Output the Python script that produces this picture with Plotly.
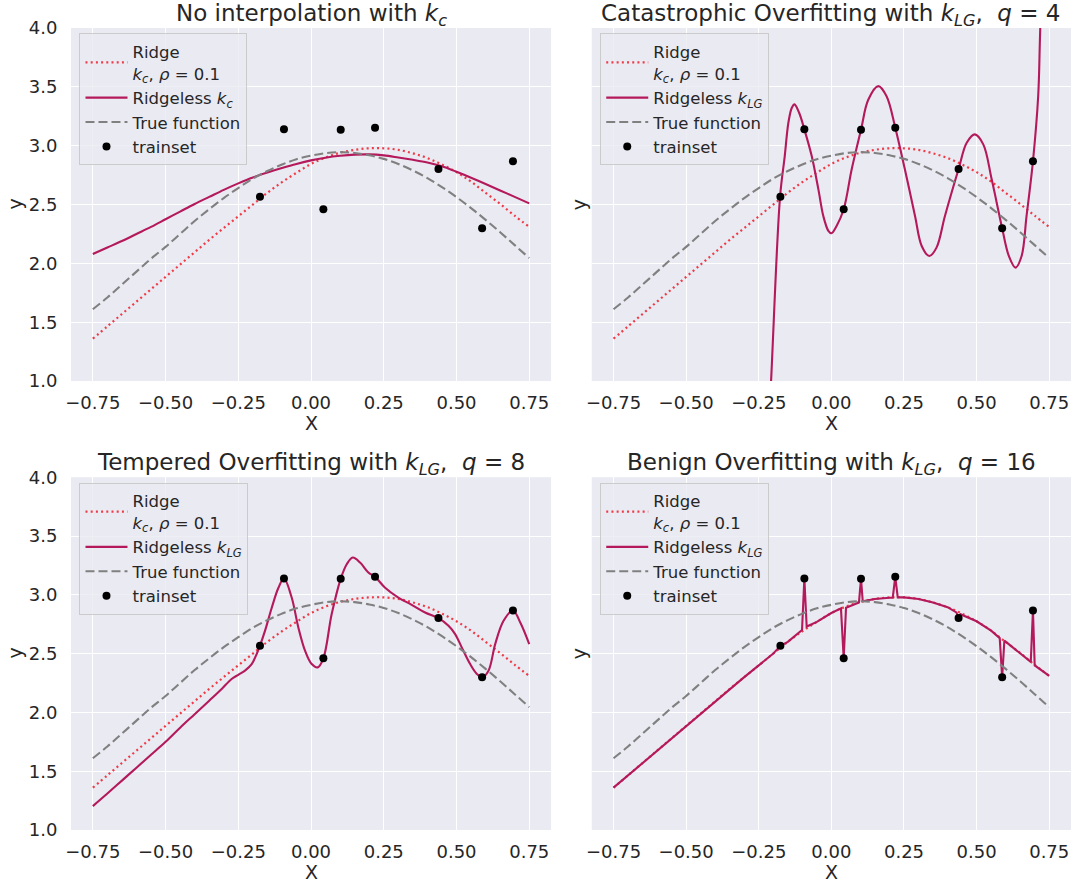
import plotly.graph_objects as go

# ---------------- data ----------------
grid_x = [-0.75, -0.70, -0.65, -0.60, -0.55, -0.50, -0.45, -0.40, -0.35, -0.30,
          -0.25, -0.20, -0.15, -0.10, -0.05, 0.00, 0.05, 0.10, 0.15, 0.20,
          0.25, 0.30, 0.35, 0.40, 0.45, 0.50, 0.55, 0.60, 0.65, 0.70, 0.75]

true_y = [1.61, 1.71, 1.82, 1.93, 2.04, 2.14, 2.25, 2.36, 2.46, 2.555,
          2.64, 2.72, 2.785, 2.84, 2.885, 2.915, 2.937, 2.945, 2.938, 2.918,
          2.888, 2.845, 2.79, 2.725, 2.648, 2.563, 2.47, 2.37, 2.265, 2.155, 2.045]

ridge_y = [1.36, 1.465, 1.57, 1.675, 1.78, 1.885, 1.99, 2.095, 2.20, 2.30,
           2.40, 2.50, 2.60, 2.69, 2.77, 2.845, 2.90, 2.94, 2.965, 2.978,
           2.978, 2.965, 2.935, 2.895, 2.84, 2.775, 2.695, 2.60, 2.505, 2.405, 2.31]

ridgeless_kc_y = [2.08, 2.135, 2.19, 2.25, 2.31, 2.375, 2.44, 2.505, 2.565, 2.625,
                  2.68, 2.73, 2.772, 2.81, 2.845, 2.875, 2.898, 2.914, 2.924, 2.926,
                  2.918, 2.90, 2.88, 2.857, 2.825, 2.778, 2.728, 2.675, 2.62, 2.565, 2.51]

q4_x = [-0.222, -0.2076, -0.1766, -0.1606, -0.148, -0.1365, -0.127, -0.111, -0.093,
        -0.0677, -0.0447, -0.0275, -0.0103, 0.0, 0.018, 0.0424, 0.07, 0.102, 0.127,
        0.1617, 0.19, 0.220, 0.253, 0.288, 0.311, 0.337, 0.362, 0.391, 0.438, 0.466,
        0.494, 0.523, 0.552, 0.588, 0.611, 0.634, 0.655, 0.672, 0.694, 0.712, 0.718, 0.726]
q4_y = [0.3, 1.0, 2.567, 2.91, 3.195, 3.32, 3.351, 3.28, 3.139,
        2.912, 2.629, 2.40, 2.276, 2.256, 2.318, 2.46, 2.80, 3.136, 3.39,
        3.506, 3.42, 3.153, 2.80, 2.403, 2.148, 2.063, 2.134, 2.403, 2.802, 3.025,
        3.096, 3.011, 2.714, 2.298, 2.063, 1.964, 2.063, 2.403, 2.867, 3.42, 3.90, 4.6]

q8_x = [-0.75, -0.70, -0.65, -0.60, -0.55, -0.50, -0.45, -0.40, -0.35, -0.307,
        -0.273, -0.25, -0.227, -0.204, -0.187, -0.1755, -0.158, -0.135, -0.112, -0.093,
        -0.0665, -0.0436, -0.0206, 0.0023, 0.0229, 0.0424, 0.071, 0.102, 0.1227, 0.1433,
        0.1686, 0.197, 0.220, 0.2546, 0.300, 0.346, 0.392, 0.438, 0.4725, 0.4954,
        0.518, 0.547, 0.570, 0.588, 0.610, 0.633, 0.6617, 0.694, 0.72, 0.75]
q8_y = [1.203, 1.31, 1.42, 1.53, 1.64, 1.75, 1.87, 1.985, 2.10, 2.20,
        2.284, 2.32, 2.355, 2.41, 2.496, 2.567, 2.695, 2.89, 3.06, 3.139,
        2.977, 2.723, 2.525, 2.411, 2.383, 2.46, 2.836, 3.136, 3.26, 3.317,
        3.275, 3.19, 3.153, 3.06, 2.977, 2.915, 2.85, 2.802, 2.737, 2.666,
        2.553, 2.411, 2.327, 2.298, 2.355, 2.581, 2.779, 2.867, 2.76, 2.58]

q16_x = [-0.75, -0.70, -0.65, -0.60, -0.55, -0.50, -0.45, -0.40, -0.35, -0.30,
         -0.25, -0.20, -0.1755, -0.15, -0.101, -0.093, -0.085, -0.05, 0.00, 0.033,
         0.0424, 0.0505, 0.095, 0.102, 0.108, 0.15, 0.20, 0.2113, 0.220, 0.2285,
         0.25, 0.30, 0.35, 0.40, 0.4305, 0.438, 0.4443, 0.50, 0.55, 0.5796,
         0.588, 0.5956, 0.6865, 0.694, 0.700, 0.75]
q16_y = [1.36, 1.465, 1.57, 1.675, 1.78, 1.885, 1.99, 2.095, 2.20, 2.30,
         2.40, 2.50, 2.567, 2.60, 2.70, 3.139, 2.73, 2.77, 2.845, 2.885,
         2.46, 2.89, 2.935, 3.136, 2.945, 2.965, 2.975, 2.975, 3.153, 2.978,
         2.978, 2.965, 2.935, 2.895, 2.85, 2.802, 2.835, 2.775, 2.695, 2.632,
         2.298, 2.61, 2.43, 2.867, 2.40, 2.31]

train_x = [-0.1755, -0.093, 0.0424, 0.102, 0.220, 0.438, 0.588, 0.694]
train_y = [2.567, 3.139, 2.46, 3.136, 3.153, 2.802, 2.298, 2.867]

x_ticks = [-0.75, -0.50, -0.25, 0.00, 0.25, 0.50, 0.75]
y_ticks = [1.0, 1.5, 2.0, 2.5, 3.0, 3.5, 4.0]

titles = ["No interpolation with <i>k<sub>c</sub></i>",
          "Catastrophic Overfitting with <i>k<sub>LG</sub></i>,  <i>q</i> = 4",
          "Tempered Overfitting with <i>k<sub>LG</sub></i>,  <i>q</i> = 8",
          "Benign Overfitting with <i>k<sub>LG</sub></i>,  <i>q</i> = 16"]
ridge_label = "Ridge<br><i>k<sub>c</sub></i>, <i>ρ</i> = 0.1"
ridgeless_labels = ["Ridgeless <i>k<sub>c</sub></i>", "Ridgeless <i>k<sub>LG</sub></i>",
                    "Ridgeless <i>k<sub>LG</sub></i>", "Ridgeless <i>k<sub>LG</sub></i>"]
ridgeless_x = [grid_x, q4_x, q8_x, q16_x]
ridgeless_y = [ridgeless_kc_y, q4_y, q8_y, q16_y]
ridgeless_shape = ["spline", "spline", "spline", "linear"]

# ---------------- styling ----------------
FONT = "DejaVu Sans"
TXT = "#262626"
BG = "#EAEAF2"
C_RIDGE = "#EE3B47"
C_RLESS = "#B3195B"
C_TRUE = "#808080"

W, H = 1077, 883
ML, MR, MT, MB = 70.5, 6, 27.5, 53
pw = W - ML - MR
ph = H - MT - MB
xdom = [[0, (550.8 - ML) / pw], [(591.5 - ML) / pw, 1.0]]
ydom = [[(H - MB - 380.8) / ph, 1.0], [0.0, (H - MB - 477) / ph]]

fig = go.Figure()

for i in range(4):
    r, c = divmod(i, 2)
    xa = "x" if i == 0 else f"x{i+1}"
    ya = "y" if i == 0 else f"y{i+1}"
    lg = "legend" if i == 0 else f"legend{i+1}"
    fig.add_trace(go.Scatter(x=grid_x, y=ridge_y, mode="lines", name=ridge_label,
                             line=dict(color=C_RIDGE, width=2.2, dash="2px,3.2px", shape="spline"),
                             xaxis=xa, yaxis=ya, legend=lg))
    fig.add_trace(go.Scatter(x=ridgeless_x[i], y=ridgeless_y[i], mode="lines",
                             name=ridgeless_labels[i],
                             line=dict(color=C_RLESS, width=2.1, shape=ridgeless_shape[i]),
                             xaxis=xa, yaxis=ya, legend=lg))
    fig.add_trace(go.Scatter(x=grid_x, y=true_y, mode="lines", name="True function",
                             line=dict(color=C_TRUE, width=2.1, dash="9px,4px", shape="spline"),
                             xaxis=xa, yaxis=ya, legend=lg))
    fig.add_trace(go.Scatter(x=train_x, y=train_y, mode="markers", name="trainset",
                             marker=dict(color="black", size=8),
                             xaxis=xa, yaxis=ya, legend=lg))

    axx = dict(domain=xdom[c], range=[-0.825, 0.825], anchor=ya,
               tickvals=x_ticks, tickformat=".2f", tickangle=0, automargin=False,
               showgrid=True, gridcolor="white",
               gridwidth=1.3, zeroline=False, showline=False, ticks="outside",
               ticklen=5, tickcolor="rgba(0,0,0,0)",
               tickfont=dict(family=FONT, size=18, color=TXT))
    axy = dict(domain=ydom[r], range=[1.0, 4.0], anchor=xa, automargin=False,
               tickvals=y_ticks, tickformat=".1f", showgrid=True, gridcolor="white",
               gridwidth=1.3, zeroline=False, showline=False, ticks="outside",
               ticklen=9, tickcolor="rgba(0,0,0,0)", showticklabels=(c == 0),
               tickfont=dict(family=FONT, size=18, color=TXT))
    fig.update_layout(**{("xaxis" if i == 0 else f"xaxis{i+1}"): axx,
                         ("yaxis" if i == 0 else f"yaxis{i+1}"): axy})

    left_px = ML + xdom[c][0] * pw + 8.5
    top_px = 33 if r == 0 else 482.5
    fig.update_layout(**{lg: dict(
        x=(left_px - ML) / pw, y=(H - MB - top_px) / ph, xref="paper", yref="paper",
        xanchor="left", yanchor="top", bgcolor="rgba(234,234,242,0.8)",
        bordercolor="rgba(200,200,200,0.9)", borderwidth=1,
        font=dict(family=FONT, size=16.5, color=TXT), itemwidth=42,
        tracegroupgap=0)})

    # title
    fig.add_annotation(text=titles[i], xref=f"{xa} domain", yref=f"{ya} domain",
                       x=0.5, y=1.0, xanchor="center", yanchor="bottom", yshift=-4,
                       showarrow=False, font=dict(family=FONT, size=23, color=TXT))
    # axis labels
    fig.add_annotation(text="X", xref=f"{xa} domain", yref=f"{ya} domain",
                       x=0.5, y=0, xanchor="center", yanchor="middle", yshift=-42,
                       showarrow=False, font=dict(family=FONT, size=19, color=TXT))
    fig.add_annotation(text="y", xref=f"{xa} domain", yref=f"{ya} domain",
                       x=0, y=0.5, xanchor="center", yanchor="middle",
                       xshift=(-56 if c == 0 else -13), textangle=-90,
                       showarrow=False, font=dict(family=FONT, size=19, color=TXT))

fig.update_layout(width=W, height=H, margin=dict(l=ML, r=MR, t=MT, b=MB, autoexpand=False),
                  paper_bgcolor="white", plot_bgcolor=BG,
                  font=dict(family=FONT, color=TXT), showlegend=True)

fig.write_html("out.html")
